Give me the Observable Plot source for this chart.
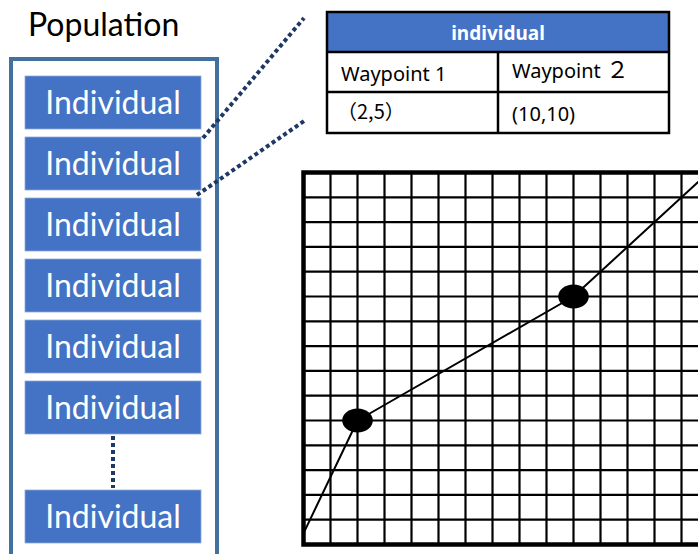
<!DOCTYPE html>
<html>
<head>
<meta charset="utf-8">
<script src="https://cdn.jsdelivr.net/npm/d3@7"></script>
<script src="https://cdn.jsdelivr.net/npm/@observablehq/plot@0.6"></script>
<style>
  html, body { margin: 0; padding: 0; background: #fff; overflow: hidden; }
  #root { position: relative; width: 698px; height: 554px; overflow: hidden; font-family: Lato, "Noto Sans", sans-serif; }
  #diagram { position: absolute; left: 0; top: 0; }
  #chart { position: absolute; left: 299px; top: 168px; width: 413px; height: 380px; }
  #chart svg { max-width: none !important; }
</style>
</head>
<body>
<div id="root">
  <svg id="diagram" width="698" height="554"></svg>
  <div id="chart"></div>
</div>
<script>
// ---- data ----
const populationTitle = "Population";
const individuals = ["Individual", "Individual", "Individual", "Individual", "Individual", "Individual", "Individual"];
const tableHeader = "individual";
const waypointLabels = ["Waypoint 1", "Waypoint ２"];
const waypointTexts = ["（2,5）", "(10,10)"];
const waypoints = [{x: 2, y: 5}, {x: 10, y: 10}];
const pathX = [0, 2, 10, 15];
const pathY = [0.45, 5, 10, 15];
const gridTicks = d3.range(1, 15);

// ---- diagram (population column + table + connectors) ----
const svg = d3.select("#diagram");
const navy = "#1F3864", blue = "#4472C4";

svg.append("text").attr("x", 28).attr("y", 36)
  .attr("font-family", "Lato").attr("font-size", 32).attr("fill", "#000")
  .text(populationTitle);

svg.append("rect").attr("x", 11).attr("y", 59).attr("width", 206).attr("height", 540)
  .attr("fill", "none").attr("stroke", "#41719C").attr("stroke-width", 4);

const boxTop = (i) => i < individuals.length - 1 ? 76 + i * 61 : 490;
const g = svg.selectAll("g.ind").data(individuals).join("g").attr("class", "ind")
  .attr("transform", (d, i) => `translate(25,${boxTop(i)})`);
g.append("rect").attr("width", 176).attr("height", 53).attr("fill", blue)
  .attr("stroke", "#8faadc").attr("stroke-width", 0.8);
g.append("text").attr("x", 88).attr("y", 38).attr("text-anchor", "middle")
  .attr("font-family", "Lato").attr("font-size", 32).attr("fill", "#fff").text(d => d);

const dotted = (x1, y1, x2, y2) => svg.append("line")
  .attr("x1", x1).attr("y1", y1).attr("x2", x2).attr("y2", y2)
  .attr("stroke", navy).attr("stroke-width", 4).attr("stroke-dasharray", "4 3");
dotted(113, 436, 113, 488);
dotted(203, 138, 304, 18);
dotted(197, 195, 304, 121);

// table
const T = svg.append("g");
const tf = "'Noto Sans', 'Noto Sans CJK JP'";
T.append("rect").attr("x", 327).attr("y", 12).attr("width", 342).attr("height", 40).attr("fill", blue);
T.append("rect").attr("x", 327).attr("y", 12).attr("width", 342).attr("height", 121)
  .attr("fill", "none").attr("stroke", "#000").attr("stroke-width", 2.5);
T.append("line").attr("x1", 327).attr("x2", 669).attr("y1", 52).attr("y2", 52).attr("stroke", "#000").attr("stroke-width", 2.5);
T.append("line").attr("x1", 327).attr("x2", 669).attr("y1", 92).attr("y2", 92).attr("stroke", "#000").attr("stroke-width", 2.5);
T.append("line").attr("x1", 498).attr("x2", 498).attr("y1", 52).attr("y2", 133).attr("stroke", "#000").attr("stroke-width", 2.5);
T.append("text").attr("x", 498).attr("y", 40).attr("text-anchor", "middle")
  .attr("font-family", tf).attr("font-weight", "bold").attr("font-size", 19).attr("fill", "#fff").text(tableHeader);
T.append("text").attr("x", 341).attr("y", 81).attr("font-family", tf).attr("font-size", 20).attr("fill", "#000").text(waypointLabels[0]);
const w2 = T.append("text").attr("x", 512).attr("y", 78).attr("font-family", tf).attr("font-size", 20).attr("fill", "#000");
w2.append("tspan").text(waypointLabels[1].slice(0, -1));
w2.append("tspan").attr("font-size", 23).attr("font-family", "'Noto Sans CJK JP'").text(waypointLabels[1].slice(-1));
T.append("text").attr("x", 337).attr("y", 119).attr("font-family", "'Noto Sans CJK JP'").attr("font-size", 20).attr("fill", "#000").text(waypointTexts[0]);
T.append("text").attr("x", 512).attr("y", 121).attr("font-family", tf).attr("font-size", 20).attr("fill", "#000").text(waypointTexts[1]);

// ---- grid chart with Plot ----
const ellipseSymbol = {
  draw(context, size) {
    const r = Math.sqrt(size / Math.PI);
    const rx = r * 1.15, ry = r * 0.9, k = 0.5523;
    context.moveTo(rx, 0);
    context.bezierCurveTo(rx, k * ry, k * rx, ry, 0, ry);
    context.bezierCurveTo(-k * rx, ry, -rx, k * ry, -rx, 0);
    context.bezierCurveTo(-rx, -k * ry, -k * rx, -ry, 0, -ry);
    context.bezierCurveTo(k * rx, -ry, rx, -k * ry, rx, 0);
    context.closePath();
  }
};
const path = pathX.map((x, i) => ({x, y: pathY[i]}));

const chart = Plot.plot({
  width: 413,
  height: 380,
  marginLeft: 4, marginRight: 4, marginTop: 4, marginBottom: 4,
  x: {domain: [0, 15], axis: null},
  y: {domain: [0, 15], axis: null},
  marks: [
    Plot.ruleX(gridTicks, {stroke: "#000", strokeWidth: 2.2}),
    Plot.ruleY(gridTicks, {stroke: "#000", strokeWidth: 2.2}),
    Plot.line(path, {x: "x", y: "y", stroke: "#000", strokeWidth: 2}),
    Plot.dot(waypoints, {x: "x", y: "y", r: 13.3, symbol: ellipseSymbol, fill: "#000", stroke: "none"}),
    Plot.frame({stroke: "#000", strokeWidth: 4.5})
  ]
});
document.getElementById("chart").appendChild(chart);
</script>
</body>
</html>
